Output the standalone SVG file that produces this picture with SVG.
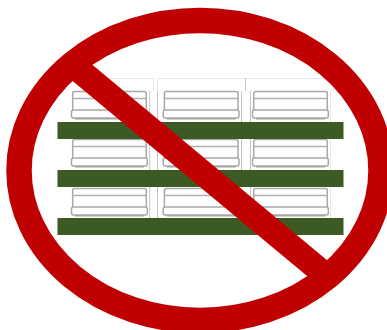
<svg xmlns="http://www.w3.org/2000/svg" width="387" height="330" viewBox="0 0 387 330">
<defs>
<style>
.s{fill:#fff;stroke:#a8a8a8;stroke-width:1.5}
.l{fill:none;stroke:#b0b0b0;stroke-width:1.5}
.d{fill:none;stroke:#a0a0a0;stroke-width:1.500}
.f{fill:none;stroke:#e8e8e8;stroke-width:1}
.v{fill:none;stroke:#c4c4c4;stroke-width:1}
.b{fill:#3d5a24}
</style>
<g id="unit">
<rect class="s" x="72.700" y="0.500" width="73.600" height="26" rx="2"/>
<path class="l" d="M72.700 7.500H146.300"/>
<path class="d" d="M75 27.700H144"/>
<rect class="s" x="71.500" y="19" width="75.800" height="8" rx="2"/>
</g>
</defs>
<rect width="387" height="330" fill="#fff"/>
<g id="frame">
<path class="f" d="M65.500 91V78.500H153.500V91M157.500 91V78.500H333.500V91M330.500 91V218"/>
<path class="v" d="M149.700 91V218M157.500 91V122M157.500 139V218M241.500 91V218M250.500 91V218M245.500 78.500V91"/>
</g>
<g id="shelves">
<use href="#unit" y="91"/><use href="#unit" x="91.700" y="91"/><use href="#unit" x="181" y="91"/>
<use href="#unit" y="139"/><use href="#unit" x="91.700" y="139"/><use href="#unit" x="181" y="139"/>
<use href="#unit" y="188"/><use href="#unit" x="91.700" y="188"/><use href="#unit" x="181" y="188"/>
</g>
<g id="bars">
<rect class="b" x="57.500" y="122" width="286" height="17"/>
<rect class="b" x="57.500" y="170" width="286" height="17"/>
<rect class="b" x="57.500" y="218" width="286" height="17"/>
</g>
<g id="no-sign" fill="#c00000">
<path d="M60 70.400L80 54.600L340 270.900L320 286.700Z"/>
<ellipse cx="200" cy="170.400" rx="181" ry="150" fill="none" stroke="#c00000" stroke-width="25.500"/>
</g>
</svg>
